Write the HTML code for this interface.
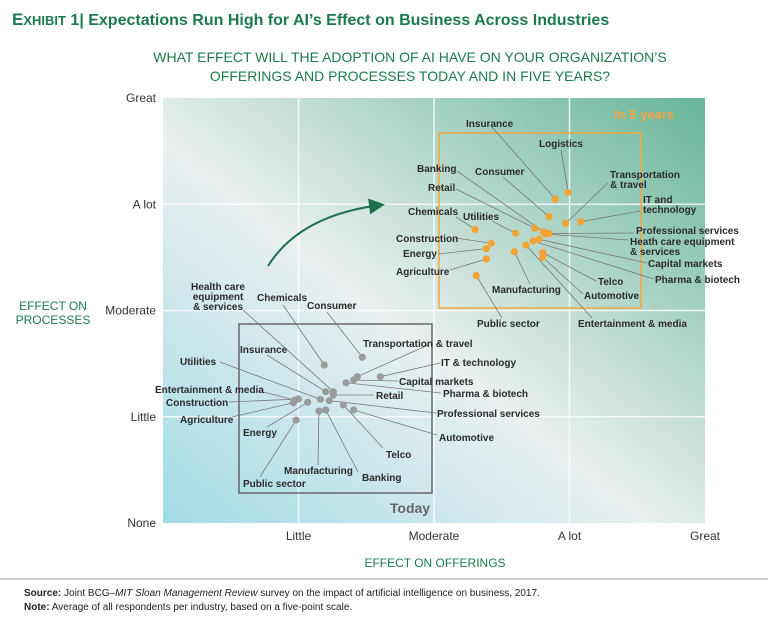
<!DOCTYPE html>
<html><head><meta charset="utf-8"><style>
body{margin:0;background:#fff;width:768px;height:625px;overflow:hidden;font-family:"Liberation Sans",sans-serif}
svg{display:block}
</style></head><body>
<svg width="768" height="625" viewBox="0 0 768 625">
<defs>
<linearGradient id="bg" x1="0" y1="1" x2="1" y2="0">
<stop offset="0" stop-color="#a2dbe6"/><stop offset="0.45" stop-color="#eaf0f0"/><stop offset="1" stop-color="#67b598"/>
</linearGradient>
<marker id="ah" markerWidth="8" markerHeight="8" refX="6" refY="4" orient="auto"><path d="M0,0 L8,4 L0,8 z" fill="#1d6e4a"/></marker>
</defs>
<text x="12" y="25" font-size="16" font-weight="bold" fill="#1d7a4f"><tspan font-size="17">E</tspan><tspan font-size="13">XHIBIT</tspan> 1| Expectations Run High for AI’s Effect on Business Across Industries</text>
<text x="410" y="62" font-size="14" fill="#1d7a4f" text-anchor="middle">WHAT EFFECT WILL THE ADOPTION OF AI HAVE ON YOUR ORGANIZATION’S</text>
<text x="410" y="81" font-size="14" fill="#1d7a4f" text-anchor="middle">OFFERINGS AND PROCESSES TODAY AND IN FIVE YEARS?</text>
<rect x="163" y="98" width="542" height="425" fill="url(#bg)"/>
<g id="grid"></g>
<g id="axes"></g>
<text x="53" y="310" font-size="12" fill="#1d7a4f" text-anchor="middle">EFFECT ON</text>
<text x="53" y="324" font-size="12" fill="#1d7a4f" text-anchor="middle">PROCESSES</text>
<text x="435" y="567" font-size="12" fill="#1d7a4f" text-anchor="middle">EFFECT ON OFFERINGS</text>
<rect x="439" y="133" width="202" height="175" fill="none" stroke="#f4a640" stroke-width="1.5"/>
<rect x="239" y="324" width="193" height="169" fill="none" stroke="#666" stroke-width="1.5"/>
<text x="644" y="119" font-size="13" font-weight="bold" fill="#f4a640" text-anchor="middle">In 5 years</text>
<text x="410" y="513" font-size="14" font-weight="bold" fill="#666" text-anchor="middle">Today</text>
<path d="M268,266 Q300,215 381,205" fill="none" stroke="#1d6e4a" stroke-width="2" marker-end="url(#ah)"/>
<g id="marks"></g>
<line x1="0" y1="579" x2="768" y2="579" stroke="#999" stroke-width="1"/>
<text x="24" y="596" font-size="10" fill="#222"><tspan font-weight="bold">Source:</tspan> Joint BCG–<tspan font-style="italic">MIT Sloan Management Review</tspan> survey on the impact of artificial intelligence on business, 2017.</text>
<text x="24" y="610" font-size="10" fill="#222"><tspan font-weight="bold">Note:</tspan> Average of all respondents per industry, based on a five-point scale.</text>
</svg>
<script>
const tickLabels = ["None","Little","Moderate","A lot","Great"];
const futureNames = ["Insurance","Logistics","Consumer","Transportation|& travel","IT and|technology","Banking","Retail","Chemicals","Utilities","Professional services","Heath care equipment|& services","Construction","Energy","Capital markets","Pharma & biotech","Entertainment & media","Manufacturing","Telco","Automotive","Agriculture","Public sector"];
const futureOfferings = [3.895,3.991,3.849,3.972,4.083,3.807,3.745,3.303,3.603,3.849,3.819,3.423,3.386,3.775,3.733,3.679,3.593,3.802,3.802,3.386,3.312];
const futureProcesses = [4.049,4.112,3.883,3.821,3.836,3.742,3.774,3.764,3.727,3.725,3.720,3.633,3.582,3.670,3.654,3.616,3.553,3.544,3.501,3.485,3.328];
const todayNames = ["Health care|equipment|& services","Chemicals","Consumer","Transportation & travel","Insurance","IT & technology","Utilities","Capital markets","Entertainment & media","Pharma & biotech","Retail","Construction","Agriculture","Professional services","Energy","Automotive","Telco","Manufacturing","Banking","Public sector"];
const todayOfferings = [2.257,2.190,2.471,2.434,2.201,2.604,2.161,2.407,1.974,2.351,2.257,1.999,1.962,2.227,2.068,2.407,2.331,2.151,2.201,1.982];
const todayProcesses = [2.236,2.487,2.560,2.377,2.236,2.377,2.164,2.346,2.158,2.320,2.205,2.167,2.132,2.151,2.136,2.064,2.111,2.054,2.064,1.969];
// label layout (pixels): [x, y, anchor, leaderX, leaderY]
const futureLayout = [[466,123,"start",492,127],[539,143,"start",561,150],[475,171,"start",503,177],[610,174,"start",608,183],[643,199,"start",640,211],[417,168,"start",457,171],[428,187,"start",456,189],[408,211,"start",456,217],[463,216,"start",492,221],[636,230,"start",634,233],[630,241,"start",628,240],[396,238,"start",456,238],[403,253,"start",438,254],[648,263,"start",647,263],[655,279,"start",654,279],[578,323,"start",592,318],[492,289,"start",530,284],[598,281,"start",596,281],[584,295,"start",583,294],[396,271,"start",450,270],[477,323,"start",502,318]];
const todayLayout = [[218,286,"middle",243,310],[257,297,"start",283,305],[307,305,"start",327,312],[363,343,"start",428,345],[240,349,"start",267,355],[441,362,"start",440,363],[180,361,"start",220,362],[399,381,"start",398,381],[155,389,"start",263,392],[443,393,"start",441,393],[376,395,"start",374,395],[166,402,"start",229,402],[180,419,"start",232,417],[437,413,"start",436,413],[243,432,"start",267,427],[439,437,"start",437,435],[386,454,"start",383,448],[284,470,"start",318,465],[362,477,"start",358,472],[243,483,"start",260,477]];
const NS="http://www.w3.org/2000/svg";
const X0=163,X1=705,Y0=523,Y1=98;
function xs(v){return X0+(v-1)/4*(X1-X0);}
function ys(v){return Y0-(v-1)/4*(Y0-Y1);}
function mk(t,a,p){const e=document.createElementNS(NS,t);for(const k in a)e.setAttribute(k,a[k]);p.appendChild(e);return e;}
const grid=document.getElementById('grid'),axes=document.getElementById('axes'),marks=document.getElementById('marks');
for(let i=1;i<4;i++){
  const gx=mk('line',{x1:xs(i+1),x2:xs(i+1),y1:Y1,y2:Y0,stroke:'#fff','stroke-width':1.5,opacity:0.8},grid);
  
  
  const gy=mk('line',{x1:X0,x2:X1,y1:ys(i+1),y2:ys(i+1),stroke:'#fff','stroke-width':1.5,opacity:0.8},grid);
  
  
}
tickLabels.forEach((t,i)=>{
  const yl=mk('text',{x:156,y:ys(i+1)+4,'font-size':12,fill:'#333','text-anchor':'end'},axes);
  yl.textContent=t;
  
  
  if(i>0){
    const xl=mk('text',{x:xs(i+1),y:540,'font-size':12,fill:'#333','text-anchor':'middle'},axes);
    xl.textContent=t;
    
    
  }
});
function series(names,xv,yv,layout,color,key){
  names.forEach((n,i)=>{
    const px=xs(xv[i]),py=ys(yv[i]);const L=layout[i];
    const ln=mk('line',{x1:L[3],y1:L[4],x2:px,y2:py,stroke:'#777','stroke-width':0.8},marks);
    
    
    const tx=mk('text',{x:L[0],y:L[1]+4,'font-size':10,'font-weight':'bold',fill:'#2b2b2b','text-anchor':L[2]},marks);
    n.split('|').forEach((s,j)=>{const sp=mk('tspan',{x:L[0],dy:j?10:0},tx);sp.textContent=s;});
    
    
  });
  names.forEach((n,i)=>{
    const c=mk('circle',{cx:xs(xv[i]),cy:ys(yv[i]),r:3.6,fill:color},marks);
    
    
  });
}
series(todayNames,todayOfferings,todayProcesses,todayLayout,'#9b9b9b','today');
series(futureNames,futureOfferings,futureProcesses,futureLayout,'#f4a232','future');
</script>
</body></html>
